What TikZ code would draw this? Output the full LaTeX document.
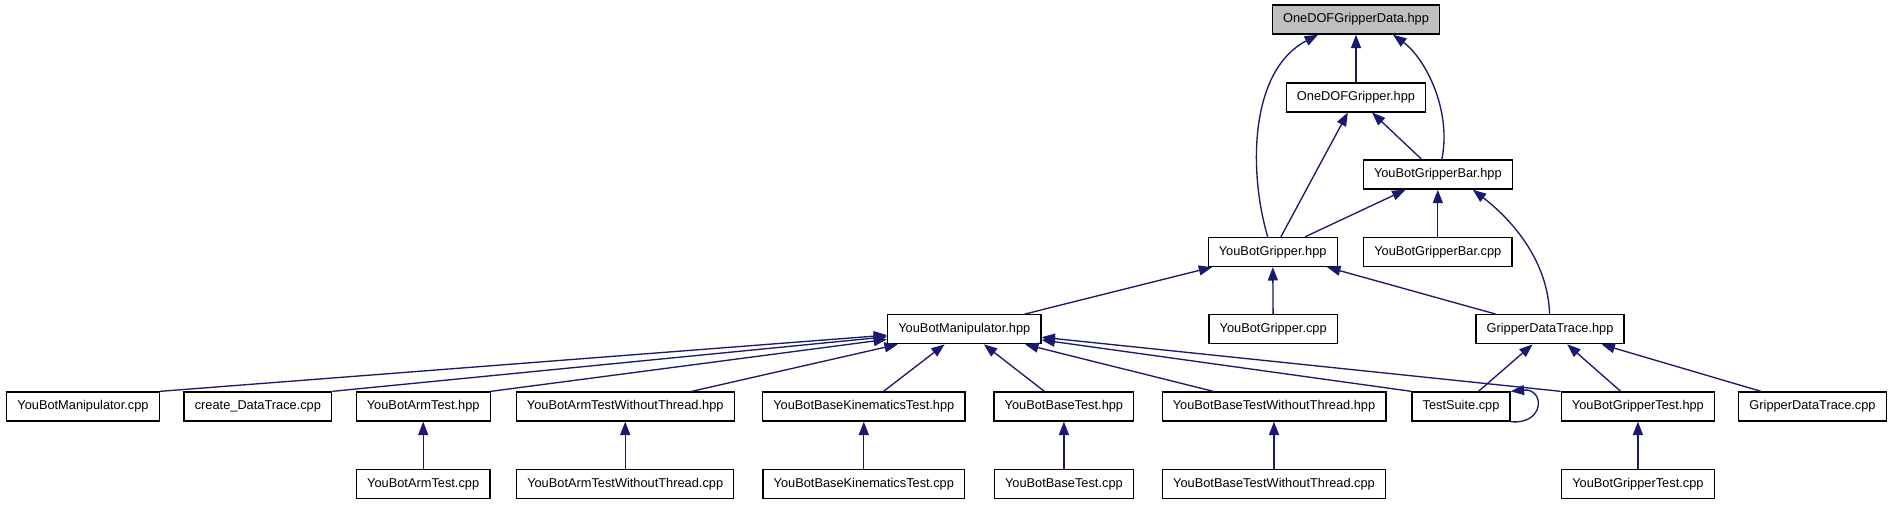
\documentclass[tikz,border=0pt]{standalone}
\usepackage{fontspec}
\setmainfont{Liberation Sans}
\usetikzlibrary{arrows.meta,calc}
\definecolor{midnightblue}{HTML}{191970}
\definecolor{grey75}{HTML}{BFBFBF}

\begin{document}
\begin{tikzpicture}[x=0.75pt, y=-0.75pt, every node/.style={rectangle, draw=black, line width=1pt, font=\fontsize{9.6}{11}\selectfont, inner xsep=8pt, inner ysep=2pt, minimum height=21.75pt},
			root/.style={fill=grey75},
			dep/.style={{Triangle[length=10pt, width=7.5pt]}-, draw=midnightblue, line width=1pt}]
			\path[fill=white] (0,0) rectangle (1891,504);
			
			% Nivel 0 a 3
			\node[root] (gdata) at (1356, 19.6) {OneDOFGripperData.hpp};
			\node (onedof) at (1356, 97.4) {OneDOFGripper.hpp};
			\node (gbar) at (1437.8, 174.6) {YouBotGripperBar.hpp};
			\node (gripper) at (1272.7, 252) {YouBotGripper.hpp};
			\node (gbarcpp) at (1437.8, 252) {YouBotGripperBar.cpp};
			
			\draw[dep] ($(gdata.south)+(-38,0)$) .. controls (1250,70) and (1248,170) .. ($(gripper.north)+(-5,0)$);
			\draw[dep] (gdata) -- (onedof);
			\draw[dep] ($(gdata.south)+(37,0)$) .. controls (1425,58) and (1452,110) .. ($(gbar.north)+(4,0)$);
			\draw[dep] (onedof) -- (gripper);
			\draw[dep] (onedof) -- (gbar);
			\draw[dep] (gbar) -- (gripper);
			\draw[dep] (gbar) -- (gbarcpp);
			
			% Nivel 4
			\node (manip) at (964.3, 329.2) {YouBotManipulator.hpp};
			\node (grippercpp) at (1273.2, 329.2) {YouBotGripper.cpp};
			\node (trace) at (1550, 329.2) {GripperDataTrace.hpp};
			
			\draw[dep] ($(gbar.south)+(35,0)$) .. controls (1511,219) and (1548,260) .. (trace);
			\draw[dep] (gripper) -- (manip);
			\draw[dep] (gripper) -- (grippercpp);
			\draw[dep] (gripper) -- (trace);
			
			% Nivel 5
			\node (manipcpp) at (83, 406.5) {YouBotManipulator.cpp};
			\node (createtrace) at (257.9, 406.5) {create\_DataTrace.cpp};
			\node (armtest) at (423.2, 406.5) {YouBotArmTest.hpp};
			\node (armtestwt) at (625.2, 406.5) {YouBotArmTestWithoutThread.hpp};
			\node (basekin) at (863.8, 406.5) {YouBotBaseKinematicsTest.hpp};
			\node (basetest) at (1063.9, 406.5) {YouBotBaseTest.hpp};
			\node (basetestwt) at (1274, 406.5) {YouBotBaseTestWithoutThread.hpp};
			\node (suite) at (1461, 406.5) {TestSuite.cpp};
			\node (grippertest) at (1637.9, 406.5) {YouBotGripperTest.hpp};
			\node (tracecpp) at (1812.5, 406.5) {GripperDataTrace.cpp};
			
			\draw[dep] (manip) -- (manipcpp.north east);
			\draw[dep] (manip) -- (createtrace.north east);
			\draw[dep] (manip) -- (armtest.north east);
			\draw[dep] (manip) -- (armtestwt);
			\draw[dep] (manip) -- (basekin);
			\draw[dep] (manip) -- (basetest);
			\draw[dep] (manip) -- (basetestwt);
			\draw[dep] (manip) -- (suite.north west);
			\draw[dep] (manip) -- (grippertest.north west);
			\draw[dep] (trace) -- (suite);
			\draw[dep] (trace) -- (grippertest);
			\draw[dep] (trace) -- (tracecpp);
			\draw[dep] (suite.north east) .. controls (1545,388) and (1545,425) .. (suite.south east);
			
			% Nivel 6
			\node (armtestcpp) at (423.2, 484) {YouBotArmTest.cpp};
			\node (armtestwtcpp) at (625.2, 484) {YouBotArmTestWithoutThread.cpp};
			\node (basekincpp) at (863.8, 484) {YouBotBaseKinematicsTest.cpp};
			\node (basetestcpp) at (1063.9, 484) {YouBotBaseTest.cpp};
			\node (basetestwtcpp) at (1274, 484) {YouBotBaseTestWithoutThread.cpp};
			\node (grippertestcpp) at (1637.9, 484) {YouBotGripperTest.cpp};
			
			\draw[dep] (armtest) -- (armtestcpp);
			\draw[dep] (armtestwt) -- (armtestwtcpp);
			\draw[dep] (basekin) -- (basekincpp);
			\draw[dep] (basetest) -- (basetestcpp);
			\draw[dep] (basetestwt) -- (basetestwtcpp);
			\draw[dep] (grippertest) -- (grippertestcpp);
		\end{tikzpicture}
\end{document}
